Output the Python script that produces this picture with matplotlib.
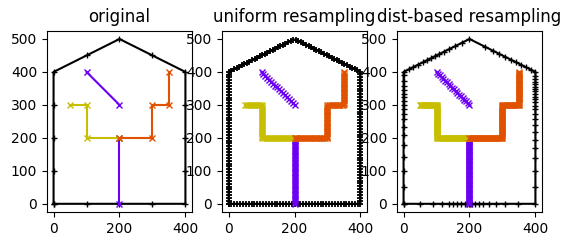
import numpy as np
import matplotlib
matplotlib.use('Agg')
import matplotlib.pyplot as plt

# ---- original paths (vertices) ----
house_x = [0, 100, 200, 300, 400, 400, 400, 400, 400, 300, 200, 100, 0, 0, 0, 0, 0]
house_y = [0, 0, 0, 0, 0, 100, 200, 300, 400, 450, 500, 450, 400, 300, 200, 100, 0]
purple_a_x = [100, 200]
purple_a_y = [400, 300]
purple_b_x = [200, 200]
purple_b_y = [0, 200]
yellow_x = [50, 100, 100, 200]
yellow_y = [300, 300, 200, 200]
orange_x = [200, 300, 300, 350, 350]
orange_y = [200, 200, 300, 300, 400]

# number of samples per path in the resampled panels
uniform_counts = [190, 18, 40, 55, 80]      # house, purple_a, purple_b, yellow, orange
dist_counts = [20, 60, 80, 110]              # purple_a, purple_b, yellow, orange

# dist-based resampling of the house outline (marker positions)
dist_bottom_x = [0, 50, 88, 118, 137, 151, 163, 175, 185, 191, 197, 203, 207, 217,
                 229, 241, 259, 281, 307, 347, 400]
dist_right_y = [50, 100, 140, 170, 195, 218, 238, 258, 273, 288, 298, 308, 318, 325,
                333, 341, 349, 355, 363, 371, 379, 389, 400]
dist_roof_x = [386, 371, 356, 341, 326, 309, 291, 271, 246, 200, 176, 156, 139, 123,
               108, 95, 82, 70, 58, 45, 30, 15, 0]
dist_roof_y = [407, 414.5, 422, 429.5, 437, 445.5, 454.5, 464.5, 477, 500, 488, 478,
               469.5, 461.5, 454, 447.5, 441, 435, 429, 422.5, 415, 407.5, 400]
dist_left_y = [390, 373, 358, 345, 333, 323, 313, 301, 288, 273, 258, 233, 208, 178,
               142, 100, 50, 0]

titles = ["original", "uniform resampling", "dist-based resampling"]

c_house = 'black'
c_purple = '#6c00f2'
c_yellow = '#c8be00'
c_orange = '#e05200'


def resample(xs, ys, n):
    p = np.column_stack([xs, ys]).astype(float)
    seg = np.hypot(np.diff(p[:, 0]), np.diff(p[:, 1]))
    d = np.r_[0, np.cumsum(seg)]
    t = np.linspace(0, d[-1], n)
    return np.interp(t, d, p[:, 0]), np.interp(t, d, p[:, 1])


fig = plt.figure(figsize=(5.72, 2.46), dpi=100)
lefts = [0.0816, 0.3876, 0.6935]
axes = [fig.add_axes([l, 0.138, 0.2546, 0.737]) for l in lefts]

colored = [(purple_a_x, purple_a_y, c_purple),
           (purple_b_x, purple_b_y, c_purple),
           (yellow_x, yellow_y, c_yellow),
           (orange_x, orange_y, c_orange)]

ms = 5
# panel 1: original
ax = axes[0]
ax.plot(house_x, house_y, '-+', color=c_house, lw=1.5, ms=ms)
for xs, ys, c in colored:
    ax.plot(xs, ys, '-x', color=c, lw=1.5, ms=ms)

# panel 2: uniform resampling
ax = axes[1]
hx, hy = resample(house_x, house_y, uniform_counts[0])
ax.plot(hx, hy, '-+', color=c_house, lw=1.5, ms=ms, mew=1.3)
for (xs, ys, c), n in zip(colored, uniform_counts[1:]):
    rx, ry = resample(xs, ys, n)
    ax.plot(rx, ry, '-x', color=c, lw=1.5, ms=ms)

# panel 3: dist-based resampling
ax = axes[2]
dx = (list(dist_bottom_x) + [400] * len(dist_right_y) + list(dist_roof_x)
      + [0] * len(dist_left_y))
dy = ([0] * len(dist_bottom_x) + list(dist_right_y) + list(dist_roof_y)
      + list(dist_left_y))
ax.plot(dx, dy, '-+', color=c_house, lw=1.5, ms=ms)
for (xs, ys, c), n in zip(colored, dist_counts):
    rx, ry = resample(xs, ys, n)
    ax.plot(rx, ry, '-x', color=c, lw=1.5, ms=ms)

for ax, t in zip(axes, titles):
    ax.set_xlim(-20, 420)
    ax.set_ylim(-25, 525)
    ax.set_aspect('equal')
    ax.set_xticks([0, 200, 400])
    ax.set_yticks([0, 100, 200, 300, 400, 500])
    ax.set_title(t)

fig.savefig('out.png', dpi=100)
